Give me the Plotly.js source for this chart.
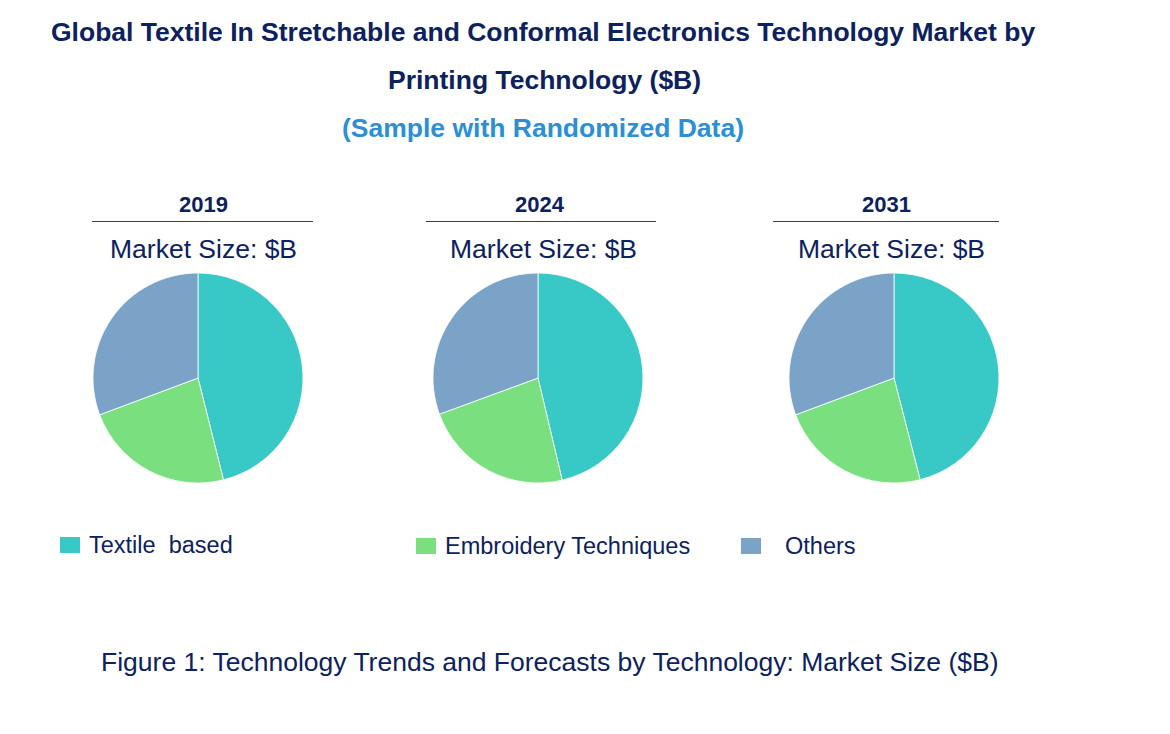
<!DOCTYPE html>
<html>
<head>
<meta charset="utf-8">
<script src="https://cdn.plot.ly/plotly-3.0.1.min.js"></script>
<style>html,body{margin:0;padding:0;background:#fff;}#chart{width:1170px;height:734px;}</style>
</head>
<body>
<div id="chart"></div>
<script>
const years = ["2019", "2024", "2031"];
const segments = ["Textile  based", "Embroidery Techniques", "Others"];
const values2019 = [46.1, 23.2, 30.7];
const values2024 = [46.3, 23.1, 30.6];
const values2031 = [46.0, 23.3, 30.7];
const colors = ["#38C8C5", "#7AE07F", "#7BA3C8"];
const subtitleText = "Market Size: $B";
const titleLine1 = "Global Textile In Stretchable and Conformal Electronics Technology Market by";
const titleLine2 = "Printing Technology ($B)";
const subtitle = "(Sample with Randomized Data)";
const caption = "Figure 1: Technology Trends and Forecasts by Technology: Market Size ($B)";

const W = 1170, H = 734;
const FONT = "Liberation Sans, Arial, sans-serif";
const NAVY = "#0C215E";
const allValues = [values2019, values2024, values2031];

// pixel boxes for pies (left, right, top, bottom)
const pieBoxes = [[93, 303, 273, 483], [433, 643, 273, 483], [789, 999, 273, 483]];
const yearCenters = [203, 540, 886];
const msCenters = [203.5, 543.5, 891];
const lineSpans = [[92, 313], [426, 656], [773, 999]];

const px = x => x / W;
const py = y => 1 - y / H;

const data = allValues.map((vals, i) => ({
  type: "pie",
  values: vals,
  labels: segments,
  sort: false,
  direction: "clockwise",
  rotation: 0,
  textinfo: "none",
  hoverinfo: "label+value",
  marker: { colors: colors, line: { color: "#ffffff", width: 0.8 } },
  domain: { x: [px(pieBoxes[i][0]), px(pieBoxes[i][1])], y: [py(pieBoxes[i][3]), py(pieBoxes[i][2])] },
  showlegend: false
}));

const annotations = [];
const shapes = [];
function ann(text, x, y, size, color, bold, xanchor) {
  annotations.push({
    text: bold ? "<b>" + text + "</b>" : text,
    x: px(x), y: py(y), xref: "paper", yref: "paper",
    xanchor: xanchor || "center", yanchor: "middle",
    borderpad: 0, borderwidth: 0,
    showarrow: false, font: { family: FONT, size: size, color: color }
  });
}
ann(titleLine1, 543, 32, 26.5, NAVY, true);
ann(titleLine2, 544, 80, 26.5, NAVY, true);
ann(subtitle, 543, 128, 26.5, "#2B8FD6", true);

years.forEach((y, i) => {
  ann(y, yearCenters[i], 205, 22, NAVY, true);
  shapes.push({ type: "line", xref: "paper", yref: "paper",
    x0: px(lineSpans[i][0]), x1: px(lineSpans[i][1]), y0: py(221.5), y1: py(221.5),
    line: { color: "#404040", width: 1 } });
  ann(subtitleText, msCenters[i], 249, 26.5, NAVY, false);
});

// legend
const legSquares = [60, 416, 741];
const legText = [89, 445, 785];
const legY = [545, 546, 546];
segments.forEach((s, i) => {
  shapes.push({ type: "rect", xref: "paper", yref: "paper",
    x0: px(legSquares[i]), x1: px(legSquares[i] + 20), y0: py(legY[i] + 8), y1: py(legY[i] - 8),
    fillcolor: colors[i], line: { width: 0 } });
  ann(s, legText[i], legY[i], 23.5, NAVY, false, "left");
});

ann(caption, 550, 662, 26.5, NAVY, false);

const layout = {
  width: W, height: H,
  margin: { l: 0, r: 0, t: 0, b: 0 },
  paper_bgcolor: "#ffffff",
  plot_bgcolor: "#ffffff",
  font: { family: FONT },
  annotations: annotations,
  shapes: shapes,
  showlegend: false
};
Plotly.newPlot("chart", data, layout, { displayModeBar: false, staticPlot: true });
</script>
</body>
</html>
